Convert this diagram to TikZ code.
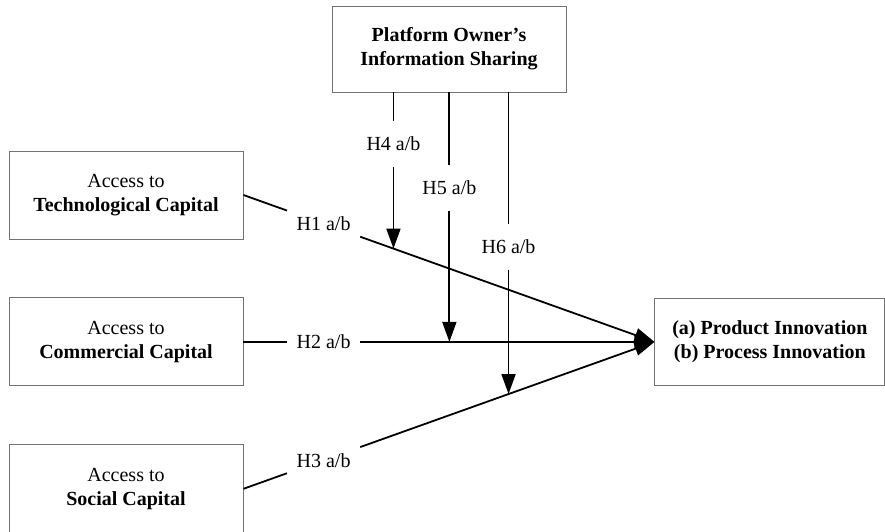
\documentclass[tikz,border=0pt]{standalone}
\usepackage{fontspec}
\setmainfont{Liberation Serif}
\usetikzlibrary{arrows.meta, positioning}

\begin{document}
\begin{tikzpicture}[
x=1pt, y=-1pt,
node distance=58pt,
font=\fontsize{20}{24}\selectfont,
box/.style={draw=black!55, line width=0.9pt, rectangle, align=center, minimum width=234pt, minimum height=88pt},
hyp/.style={inner xsep=9.5pt, inner ysep=0pt, minimum height=45pt},
link/.style={line width=1.8pt},
arrow/.style={-{Triangle[length=20pt, width=14pt]}}
]
\useasboundingbox (0,0) rectangle (885,532);

\node[box] (tech) at (126,195)
{Access to\\
\textbf{Technological Capital}};

\node[box, below=of tech] (comm)
{Access to\\
\textbf{Commercial Capital}};

\node[box, below=of comm] (social)
{Access to\\
\textbf{Social Capital}};

\node[box, minimum width=230pt, minimum height=87pt, right=411pt of comm] (outcome)
{\textbf{(a) Product Innovation}\\
\textbf{(b) Process Innovation}};

\node[box, minimum height=86pt] (owner) at (449,49)
{\textbf{Platform Owner’s}\\
\textbf{Information Sharing}};

% direct effects
\path (tech.east) -- node[hyp, pos=0.195] (h1) {H1 a/b} (outcome.west);
\path (comm.east) -- node[hyp, pos=0.195] (h2) {H2 a/b} (outcome.west);
\path (social.east) -- node[hyp, pos=0.195] (h3) {H3 a/b} (outcome.west);

% moderation points
\path (tech.east) -- coordinate[pos=0.365] (m1) (outcome.west);
\path (comm.east) -- coordinate[pos=0.501] (m2) (outcome.west);
\path (social.east) -- coordinate[pos=0.645] (m3) (outcome.west);

\node[hyp] (h4) at (m1 |- 0,144) {H4 a/b};
\node[hyp] (h5) at (m2 |- 0,188) {H5 a/b};
\node[hyp] (h6) at (m3 |- 0,247) {H6 a/b};

\draw[link] (tech.east) -- (h1);
\draw[link, arrow] (h1) -- (outcome.west);
\draw[link] (comm.east) -- (h2);
\draw[link, arrow] (h2) -- (outcome.west);
\draw[link] (social.east) -- (h3);
\draw[link, arrow] (h3) -- (outcome.west);

\draw[link] (m1 |- owner.south) -- (h4);
\draw[link, arrow] (h4) -- (m1);
\draw[link] (m2 |- owner.south) -- (h5);
\draw[link, arrow] (h5) -- (m2);
\draw[link] (m3 |- owner.south) -- (h6);
\draw[link, arrow] (h6) -- (m3);

\end{tikzpicture}
\end{document}
